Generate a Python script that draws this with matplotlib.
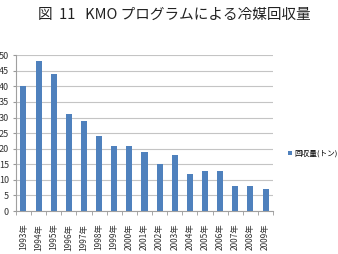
import matplotlib
matplotlib.use("Agg")
import matplotlib.pyplot as plt
from matplotlib.patches import Patch
import numpy as np

plt.rcParams['font.family'] = ['Noto Sans CJK JP', 'DejaVu Sans']

years = ["1993年", "1994年", "1995年", "1996年", "1997年", "1998年", "1999年", "2000年",
         "2001年", "2002年", "2003年", "2004年", "2005年", "2006年", "2007年", "2008年", "2009年"]
values = [40, 48, 44, 31, 29, 24, 21, 21, 19, 15, 18, 12, 13, 13, 8, 8, 7]
yticks = [0, 5, 10, 15, 20, 25, 30, 35, 40, 45, 50]
title = "図  11   KMO プログラムによる冷媒回収量"
series_name = "回収量(トン)"

fig = plt.figure(figsize=(3.38, 2.54), dpi=100)
ax = fig.add_axes([0.047, 0.169, 0.761, 0.614])
x = np.arange(len(years))
ax.bar(x, values, width=0.4, color="#4F81BD", zorder=3)
ax.set_xlim(-0.5, len(years) - 0.5)
ax.set_ylim(0, 50)
ax.set_yticks(yticks)
ax.set_yticklabels([str(v) for v in yticks], fontsize=6.5, color="#333333")
ax.set_xticks(x)
ax.set_xticklabels(years, rotation=90, fontsize=6, color="#333333")
ax.tick_params(axis='x', length=0, pad=9)
ax.tick_params(axis='y', length=2, color="#999999", pad=3)
ax.set_xticks(np.arange(-0.5, len(years), 1), minor=True)
ax.tick_params(axis='x', which='minor', length=3, color="#999999")
ax.grid(axis='y', color="#C4C4C4", linewidth=0.8, zorder=0)
for s in ['top', 'right']:
    ax.spines[s].set_visible(False)
for s in ['left', 'bottom']:
    ax.spines[s].set_color("#A0A0A0")
    ax.spines[s].set_linewidth(0.8)

fig.text(0.515, 0.94, title, ha='center', va='center', fontsize=10.5, color="#222222")
h = [Patch(facecolor="#4F81BD", label=series_name)]
fig.legend(handles=h, loc='center left', bbox_to_anchor=(0.84, 0.395), frameon=False,
           fontsize=5.5, handlelength=0.6, handleheight=0.6, handletextpad=0.3, borderpad=0)
fig.savefig("out.png", dpi=100)
